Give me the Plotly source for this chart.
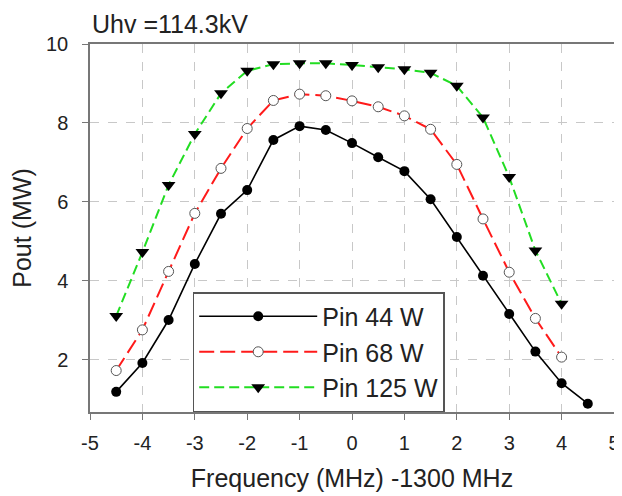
import plotly.graph_objects as go

freq = [-4.5, -4.0, -3.5, -3.0, -2.5, -2.0, -1.5, -1.0, -0.5, 0.0, 0.5, 1.0, 1.5, 2.0, 2.5, 3.0, 3.5, 4.0, 4.5]
pin44 = [1.19, 1.92, 3.01, 4.43, 5.70, 6.30, 7.57, 7.92, 7.82, 7.49, 7.13, 6.78, 6.07, 5.11, 4.13, 3.16, 2.21, 1.41, 0.89]
freq68 = [-4.5, -4.0, -3.5, -3.0, -2.5, -2.0, -1.5, -1.0, -0.5, 0.0, 0.5, 1.0, 1.5, 2.0, 2.5, 3.0, 3.5, 4.0]
pin68 = [1.73, 2.76, 4.24, 5.71, 6.85, 7.86, 8.57, 8.73, 8.69, 8.56, 8.41, 8.18, 7.84, 6.95, 5.57, 4.22, 3.05, 2.07]
freq125 = [-4.5, -4.0, -3.5, -3.0, -2.5, -2.0, -1.5, -1.0, -0.5, 0.0, 0.5, 1.0, 1.5, 2.0, 2.5, 3.0, 3.5, 4.0]
pin125 = [3.11, 4.73, 6.43, 7.72, 8.75, 9.32, 9.49, 9.51, 9.51, 9.47, 9.41, 9.36, 9.27, 8.94, 8.14, 6.63, 4.77, 3.42]

x_ticks = [-5, -4, -3, -2, -1, 0, 1, 2, 3, 4, 5]
x_tick_labels = ["-5", "-4", "-3", "-2", "-1", "0", "1", "2", "3", "4", "5"]
y_ticks = [2, 4, 6, 8, 10]
y_tick_labels = ["2", "4", "6", "8", "10"]

FONT = "Liberation Sans, Arial, sans-serif"

fig = go.Figure()
fig.add_trace(go.Scatter(
    x=freq, y=pin44, name="Pin 44 W", mode="lines+markers",
    line=dict(color="black", width=1.6),
    marker=dict(symbol="circle", size=10, color="black"),
))
fig.add_trace(go.Scatter(
    x=freq68, y=pin68, name="Pin 68 W", mode="lines+markers",
    line=dict(color="#ff1a1a", width=2, dash="15px,6px"),
    marker=dict(symbol="circle", size=10, color="white", line=dict(color="#555555", width=1)),
))
fig.add_trace(go.Scatter(
    x=freq125, y=pin125, name="Pin 125 W", mode="lines+markers",
    line=dict(color="#22dd22", width=2, dash="10px,5px"),
    marker=dict(symbol="triangle-down", size=12, color="black"),
))

axis_common = dict(
    showline=True, linecolor="#777777", linewidth=1.5, mirror=True,
    ticks="outside", ticklen=6, tickcolor="#777777", tickwidth=1,
    showgrid=True, gridcolor="#c8c8c8", gridwidth=1, griddash="dash",
    zeroline=False, automargin=False,
    tickfont=dict(family=FONT, size=20, color="#222222"),
)

fig.update_xaxes(
    range=[-5, 5], tickvals=x_ticks, ticktext=x_tick_labels,
    title=dict(text="Frequency (MHz) -1300 MHz", font=dict(family=FONT, size=25, color="#222222"), standoff=17),
    ticklabelstandoff=6,
    **axis_common,
)
fig.update_yaxes(
    range=[0.68, 10], tickvals=y_ticks, ticktext=y_tick_labels,
    title=dict(text="Pout (MW)", font=dict(family=FONT, size=25, color="#222222"), standoff=11),
    ticklabelstandoff=10,
    **axis_common,
)

fig.update_layout(
    width=622, height=496,
    margin=dict(l=82, r=16, t=36, b=92),
    paper_bgcolor="white", plot_bgcolor="white",
    font=dict(family=FONT, color="#222222"),
    showlegend=True,
    legend=dict(
        x=0.196, y=0.326, xanchor="left", yanchor="top",
        bgcolor="white", bordercolor="#555555", borderwidth=1.5,
        font=dict(family=FONT, size=25, color="#222222"),
        itemwidth=118, tracegroupgap=0,
    ),
    annotations=[dict(
        text="Uhv =114.3kV", xref="paper", yref="paper", x=0, y=1,
        xanchor="left", yanchor="middle", yshift=20, showarrow=False,
        font=dict(family=FONT, size=25, color="#222222"),
    )],
)

fig.write_html("out.html")
